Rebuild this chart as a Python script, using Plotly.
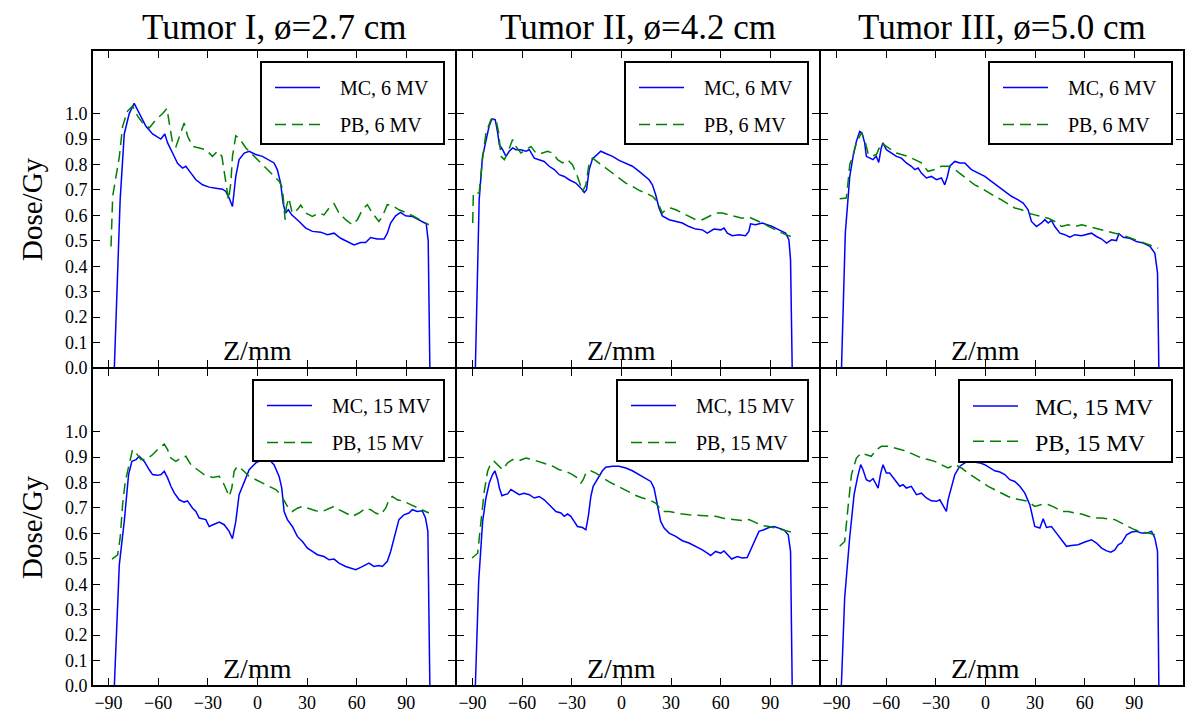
import plotly.graph_objects as go
from plotly.subplots import make_subplots

# ---------------- data: (Z/mm, Dose/Gy) pairs ----------------
mc6_t1 = [(-86.5,0),(-83,0.66),(-80.5,0.92),(-77.5,1.0),(-74.5,1.04),(-71.4,1.0),(-67.4,0.95),(-63.4,0.92),
          (-60.4,0.91),(-58.4,0.90),(-56,0.92),(-54.3,0.885),(-51.3,0.845),(-48.3,0.805),(-45.3,0.786),(-43.3,0.793),
          (-40.2,0.766),(-37.2,0.74),(-33.2,0.72),(-29.2,0.711),(-25.2,0.707),(-21.1,0.703),(-19.1,0.694),(-17.1,0.668),
          (-15.1,0.635),(-13.1,0.753),(-11.1,0.819),(-8,0.845),(-5,0.852),(-1,0.839),(3,0.832),(7,0.819),(10,0.806),
          (12,0.78),(14,0.727),(15.5,0.648),(17,0.609),(18.7,0.622),(20.7,0.602),(25.2,0.576),(29.2,0.55),(33.2,0.537),
          (38.2,0.534),(42.3,0.524),(46.3,0.53),(50.3,0.51),(54.3,0.497),(58.4,0.484),(62.4,0.493),(65.4,0.493),
          (68.4,0.513),(72.4,0.507),(76.5,0.507),(78.5,0.53),(80.5,0.57),(83.5,0.598),(86.5,0.612),(89.5,0.598),
          (93.6,0.596),(97.6,0.583),(102,0.567),(103.2,0.50),(104.2,0)]
pb6_t1 = [(-88.5,0.478),(-87.5,0.675),(-83.5,0.83),(-81.5,0.95),(-78.5,1.01),(-75.5,1.03),(-72.4,0.99),(-69.4,0.963),
          (-65.4,0.944),(-61.4,0.976),(-57.3,1.0),(-54.7,1.02),(-53.3,0.963),(-51.3,0.885),(-49.3,0.87),(-46.3,0.925),
          (-44.3,0.963),(-42.2,0.911),(-39.2,0.871),(-35.2,0.865),(-31.2,0.858),(-27.2,0.832),(-24.1,0.852),(-21.5,0.832),
          (-19.5,0.753),(-17.5,0.661),(-16.1,0.727),(-15.1,0.832),(-13.1,0.913),(-11.1,0.904),(-7,0.865),(-3,0.839),
          (1,0.812),(5,0.786),(9.1,0.76),(13.1,0.734),(15.1,0.707),(16.7,0.583),(17.5,0.635),(19,0.668),(21,0.609),
          (24.1,0.622),(26.2,0.64),(29.2,0.609),(33.2,0.596),(37.2,0.609),(40.2,0.602),(43.3,0.629),(46.3,0.646),
          (49.3,0.609),(53.3,0.583),(57.3,0.563),(60.4,0.583),(63.4,0.622),(66.4,0.642),(69.4,0.609),(73.4,0.576),
          (75.5,0.596),(78.5,0.642),(81.5,0.639),(85.5,0.622),(89.5,0.612),(94.6,0.596),(99.6,0.576),(103.6,0.563)]

mc6_t2 = [(-88.3,0),(-86,0.66),(-84,0.83),(-82,0.885),(-80,0.95),(-78.3,0.979),(-76.3,0.976),(-74.8,0.924),
          (-73.8,0.878),(-71.8,0.858),(-69.8,0.832),(-67.8,0.852),(-65.8,0.865),(-63.8,0.858),(-60.8,0.858),
          (-57.7,0.852),(-55.7,0.858),(-52.7,0.825),(-49.7,0.819),(-46.7,0.812),(-43.7,0.793),(-40.6,0.78),
          (-37.6,0.76),(-34.6,0.753),(-31.6,0.74),(-27.6,0.727),(-24.5,0.707),(-22.5,0.69),(-21.1,0.701),
          (-19.5,0.78),(-17.5,0.822),(-14.5,0.839),(-12.5,0.852),(-9.5,0.843),(-5.4,0.832),(-1.4,0.816),(2.6,0.806),
          (6.6,0.793),(10.7,0.773),(14.7,0.753),(16.7,0.74),(18.7,0.72),(20.7,0.681),(22.7,0.629),(24.7,0.598),
          (28.8,0.583),(32.8,0.576),(36.8,0.57),(40.8,0.556),(44.9,0.546),(48.9,0.543),(51.9,0.53),(55.9,0.546),
          (60,0.543),(62,0.55),(64,0.53),(67,0.52),(71,0.524),(75,0.52),(77,0.537),(78,0.567),(81,0.563),(85.1,0.57),
          (88.1,0.563),(91.1,0.556),(95.2,0.543),(99.2,0.53),(101.2,0.504),(102.2,0.425),(103.2,0)]
pb6_t2 = [(-89.9,0.57),(-89.5,0.688),(-86,0.688),(-84,0.819),(-81.9,0.924),(-78.9,0.976),(-75.9,0.979),
          (-74.2,0.924),(-72.8,0.832),(-70.8,0.819),(-68.8,0.845),(-65.8,0.898),(-63.8,0.871),(-60.8,0.845),
          (-57.7,0.858),(-54.7,0.871),(-51.7,0.845),(-48.7,0.843),(-44.7,0.852),(-41.6,0.845),(-38.6,0.819),
          (-35.6,0.806),(-32.6,0.819),(-29.6,0.799),(-26.6,0.753),(-23.5,0.694),(-21.5,0.72),(-19.5,0.806),
          (-17.5,0.825),(-13.5,0.806),(-9.5,0.786),(-5.4,0.766),(-1.4,0.747),(2.6,0.727),(6.6,0.714),(10.7,0.698),
          (14.7,0.688),(18.7,0.675),(21.7,0.655),(24.7,0.609),(26.8,0.622),(29.8,0.629),(32.8,0.622),(36.8,0.609),
          (40.8,0.596),(44.9,0.583),(48.9,0.583),(52.9,0.596),(56.9,0.609),(61,0.609),(65,0.602),(69,0.596),
          (73,0.589),(77.1,0.593),(81.1,0.583),(85.1,0.57),(89.1,0.556),(93.2,0.543),(97.2,0.53),(105.2,0.51)]

mc6_t3 = [(-87,0),(-84.7,0.53),(-82,0.753),(-80,0.832),(-78,0.891),(-76,0.93),(-74.6,0.924),(-73,0.885),
          (-72,0.832),(-70,0.825),(-68,0.819),(-66,0.832),(-64.5,0.808),(-63,0.865),(-61.9,0.885),(-59.9,0.858),
          (-56.9,0.845),(-53.8,0.832),(-50.8,0.825),(-47.8,0.806),(-44.8,0.793),(-42.7,0.78),(-40.7,0.786),
          (-38.7,0.766),(-35.7,0.747),(-32.7,0.753),(-29.6,0.74),(-26.6,0.747),(-24.6,0.72),(-23,0.753),
          (-21.6,0.793),(-18.5,0.812),(-15.5,0.806),(-12.5,0.806),(-8.5,0.78),(-4.4,0.766),(-0.4,0.753),
          (3.6,0.734),(7.7,0.714),(11.7,0.694),(15.7,0.675),(19.8,0.661),(22.8,0.648),(25.8,0.622),(27.8,0.576),
          (30.8,0.556),(33.9,0.57),(35.9,0.583),(37.9,0.57),(39.9,0.58),(41.9,0.556),(45,0.53),(48,0.524),
          (51,0.514),(54,0.524),(58,0.52),(61.1,0.524),(64.1,0.53),(67.1,0.517),(70.2,0.507),(73.2,0.491),
          (76.2,0.504),(79.2,0.501),(80.6,0.528),(83.3,0.514),(87.3,0.51),(91.3,0.497),(95.4,0.491),(99.4,0.478),
          (102.4,0.451),(104,0.373),(104.8,0)]
pb6_t3 = [(-88.1,0.665),(-84.1,0.668),(-83.1,0.727),(-82,0.8),(-80,0.839),(-78,0.885),(-75,0.924),(-73,0.898),
          (-71,0.845),(-68.9,0.832),(-65.9,0.839),(-62.9,0.885),(-59.9,0.871),(-56.9,0.858),(-53.8,0.845),
          (-50.8,0.839),(-46.8,0.832),(-42.7,0.819),(-38.7,0.806),(-34.7,0.773),(-30.6,0.78),(-26.6,0.793),
          (-22.6,0.793),(-18.5,0.78),(-14.5,0.76),(-10.5,0.74),(-6.5,0.72),(-2.4,0.707),(1.6,0.69),(5.6,0.675),
          (9.7,0.661),(13.7,0.646),(17.7,0.629),(21.8,0.622),(25.8,0.609),(29.8,0.602),(33.9,0.596),(37.9,0.589),
          (41.9,0.576),(46,0.556),(50,0.563),(54,0.556),(58.1,0.563),(62.1,0.556),(66.1,0.55),(70.2,0.543),
          (74.2,0.537),(78.2,0.53),(82.3,0.524),(86.3,0.514),(90.3,0.504),(94.4,0.493),(98.4,0.484),(104.4,0.471)]

mc15_t1 = [(-86.5,0),(-83.5,0.476),(-80.5,0.647),(-77.9,0.831),(-75.9,0.883),(-73.4,0.89),(-71.4,0.903),
           (-68.4,0.883),(-65.4,0.85),(-63.4,0.831),(-60.4,0.828),(-58.3,0.831),(-56.3,0.844),(-54.3,0.818),
           (-52.3,0.785),(-50.3,0.759),(-47.3,0.732),(-44.3,0.723),(-42.3,0.728),(-39.2,0.699),(-37.2,0.686),
           (-35.2,0.66),(-31.2,0.654),(-29.2,0.627),(-26.2,0.636),(-23.1,0.644),(-20.1,0.634),(-17.1,0.608),
           (-15.1,0.579),(-13.1,0.647),(-11.1,0.752),(-8,0.804),(-5,0.85),(-1,0.877),(3,0.89),(7,0.89),(10,0.87),
           (13.1,0.824),(14.7,0.778),(16.1,0.686),(18.1,0.654),(21.1,0.627),(24.1,0.588),(27.2,0.568),(30.2,0.542),
           (33.2,0.529),(36.2,0.516),(40.2,0.509),(43.3,0.496),(46.3,0.499),(49.3,0.483),(53.3,0.47),(56.3,0.463),
           (59.4,0.457),(62.4,0.466),(65.4,0.476),(67.4,0.483),(70.4,0.47),(73.4,0.474),(75.5,0.47),(78.5,0.49),
           (80.5,0.529),(82.5,0.581),(85.5,0.654),(88.5,0.673),(91.5,0.68),(93.6,0.693),(96.6,0.686),(99.6,0.689),
           (101.6,0.66),(103,0.608),(104.2,0)]
pb15_t1 = [(-87.9,0.499),(-84.5,0.516),(-83,0.581),(-81.5,0.713),(-79.9,0.804),(-77.5,0.87),(-75.5,0.929),
           (-73.4,0.916),(-70.4,0.89),(-67.4,0.89),(-63.4,0.909),(-59.4,0.936),(-56.3,0.951),(-54.3,0.929),
           (-52.3,0.896),(-49.3,0.883),(-46.3,0.896),(-43.3,0.903),(-40.2,0.87),(-36.2,0.85),(-32.2,0.831),
           (-27.2,0.82),(-23.1,0.824),(-20.1,0.791),(-17.1,0.745),(-15.5,0.778),(-14.1,0.844),(-12.1,0.864),
           (-9.1,0.85),(-5,0.824),(-1,0.811),(3,0.798),(7,0.785),(11.1,0.772),(14.1,0.752),(16.1,0.726),(18.1,0.706),
           (21.1,0.686),(24.1,0.699),(27.2,0.706),(31.2,0.699),(35.2,0.689),(39.2,0.686),(43.3,0.697),(46.3,0.706),
           (49.3,0.693),(53.3,0.68),(57.3,0.667),(61.4,0.68),(65.4,0.699),(68.4,0.693),(71.4,0.68),(74.4,0.673),
           (77.5,0.699),(79.5,0.732),(81.5,0.745),(84.5,0.732),(88.5,0.726),(92.6,0.713),(97.6,0.699),(103.6,0.68)]

mc15_t2 = [(-88.3,0),(-86.3,0.411),(-83.9,0.647),(-81.9,0.739),(-79.9,0.798),(-77.9,0.831),(-76.5,0.846),
           (-74.8,0.811),(-73.8,0.778),(-72.2,0.748),(-70.8,0.752),(-68.8,0.755),(-66.8,0.772),(-64.8,0.765),
           (-61.8,0.752),(-58.8,0.758),(-55.7,0.752),(-52.7,0.739),(-49.7,0.745),(-46.7,0.732),(-43.7,0.713),
           (-41.6,0.699),(-39.6,0.686),(-36.6,0.68),(-34.6,0.667),(-32.6,0.676),(-30.6,0.667),(-28.6,0.647),
           (-26.6,0.627),(-23.5,0.623),(-21.5,0.614),(-19.9,0.673),(-18.5,0.745),(-17.1,0.785),(-14.5,0.811),
           (-11.5,0.846),(-9.5,0.86),(-5.4,0.864),(-1.4,0.864),(2.6,0.857),(6.6,0.846),(10.7,0.831),(14.7,0.818),
           (17.7,0.804),(19.7,0.778),(21.7,0.713),(23.7,0.647),(25.8,0.621),(28.8,0.601),(32.8,0.588),(36.8,0.571),
           (40.8,0.562),(44.9,0.549),(48.9,0.535),(51.9,0.522),(53.9,0.513),(56.9,0.529),(60,0.522),(62,0.531),
           (64,0.516),(66.6,0.499),(70,0.509),(73,0.503),(76,0.505),(78.1,0.535),(80.1,0.568),(83.1,0.608),
           (86.1,0.614),(89.1,0.623),(92.2,0.627),(95.2,0.621),(98.2,0.614),(100.8,0.594),(102.2,0.529),(103.2,0)]
pb15_t2 = [(-90.3,0.503),(-86.9,0.522),(-84.9,0.647),(-82.9,0.765),(-80.9,0.844),(-78.9,0.877),(-76.9,0.883),
           (-74.8,0.87),(-71.8,0.85),(-68.8,0.877),(-65.8,0.89),(-61.8,0.886),(-57.7,0.896),(-53.7,0.89),
           (-49.7,0.881),(-45.7,0.873),(-41.6,0.864),(-37.6,0.85),(-33.6,0.844),(-29.6,0.831),(-26.6,0.818),
           (-24.5,0.798),(-23.1,0.811),(-21.5,0.837),(-18.5,0.846),(-15.5,0.837),(-11.5,0.818),(-7.4,0.802),
           (-3.4,0.789),(0.6,0.776),(4.6,0.762),(8.7,0.749),(12.7,0.739),(16.7,0.732),(20.7,0.719),(22.7,0.702),
           (24.7,0.686),(28.8,0.686),(32.8,0.68),(36.8,0.676),(40.8,0.673),(46.9,0.671),(52.9,0.669),(56.9,0.667),
           (61,0.66),(67,0.654),(73,0.65),(77.1,0.654),(81.1,0.644),(85.1,0.631),(89.1,0.627),(93.2,0.621),
           (97.2,0.614),(105.2,0.601)]

mc15_t3 = [(-87.1,0),(-85.1,0.345),(-82.1,0.581),(-79.4,0.752),(-77.4,0.818),(-75.4,0.87),(-74,0.85),(-72,0.811),
           (-70,0.804),(-67.9,0.815),(-66.5,0.798),(-64.9,0.778),(-63.3,0.837),(-61.9,0.87),(-59.9,0.837),
           (-57.9,0.837),(-54.8,0.811),(-51.8,0.785),(-49.8,0.791),(-47.8,0.778),(-44.8,0.785),(-41.7,0.752),
           (-38.7,0.758),(-35.7,0.739),(-32.7,0.728),(-29.6,0.726),(-27.6,0.732),(-25.6,0.706),(-23.6,0.686),
           (-22.6,0.732),(-20.6,0.778),(-18.5,0.831),(-15.5,0.864),(-12.5,0.877),(-9.5,0.883),(-6.5,0.881),
           (-3.4,0.877),(-0.4,0.87),(2.6,0.857),(5.6,0.846),(8.7,0.841),(11.7,0.831),(14.7,0.811),(17.7,0.804),
           (20.8,0.785),(23.8,0.758),(26.8,0.713),(29.8,0.627),(32.9,0.621),(34.9,0.657),(36.9,0.623),(39.9,0.627),
           (42.9,0.601),(46,0.575),(49,0.549),(52,0.552),(56,0.555),(60.1,0.566),(64.1,0.575),(67.1,0.562),
           (70.2,0.542),(73.2,0.531),(75.8,0.526),(78.2,0.535),(80.2,0.555),(82.3,0.562),(85.3,0.594),(88.3,0.605),
           (91.3,0.608),(94.4,0.601),(97.4,0.601),(100.4,0.608),(102.4,0.581),(104,0.529),(104.8,0)]
pb15_t3 = [(-88.1,0.549),(-85.1,0.568),(-83.1,0.699),(-81,0.831),(-78,0.896),(-75,0.916),(-72,0.909),(-69,0.903),
           (-65.9,0.929),(-62.9,0.942),(-58.9,0.942),(-54.8,0.936),(-50.8,0.929),(-46.8,0.92),(-42.7,0.909),
           (-38.7,0.896),(-34.7,0.89),(-30.6,0.883),(-26.6,0.87),(-22.6,0.857),(-18.5,0.87),(-14.5,0.857),
           (-10.5,0.837),(-6.5,0.818),(-2.4,0.802),(1.6,0.785),(5.6,0.772),(9.7,0.758),(13.7,0.745),(17.7,0.736),
           (21.8,0.732),(25.8,0.726),(29.8,0.706),(33.9,0.713),(37.9,0.713),(41.9,0.702),(46,0.686),(50,0.686),
           (54,0.68),(58.1,0.676),(62.1,0.667),(66.1,0.66),(70.2,0.66),(74.2,0.657),(78.2,0.654),(82.3,0.64),
           (86.3,0.627),(90.3,0.614),(94.4,0.605),(98.4,0.601),(104.4,0.592)]

titles = ["Tumor I, ø=2.7 cm", "Tumor II, ø=4.2 cm", "Tumor III, ø=5.0 cm"]
energies = ["6 MV", "15 MV"]
x_ticks = [-90, -60, -30, 0, 30, 60, 90]
y_ticks = [0.0, 0.1, 0.2, 0.3, 0.4, 0.5, 0.6, 0.7, 0.8, 0.9, 1.0]
y_ticktext = ["0.0", "0.1", "0.2", "0.3", "0.4", "0.5", "0.6", "0.7", "0.8", "0.9", "1.0"]

panels = [[(mc6_t1, pb6_t1), (mc6_t2, pb6_t2), (mc6_t3, pb6_t3)],
          [(mc15_t1, pb15_t1), (mc15_t2, pb15_t2), (mc15_t3, pb15_t3)]]

# ---------------- figure ----------------
FONT = "Liberation Serif"
W, H = 1200, 722
ML, MR, MT, MB = 92, 16, 50, 36
PW, PH = W - ML - MR, H - MT - MB

def px_x(p):
    return (p - ML) / PW

def px_y(p):
    return (H - MB - p) / PH

fig = make_subplots(rows=2, cols=3, horizontal_spacing=0, vertical_spacing=0)

# legend boxes in pixels: left, right, top, bottom, font size, group gap, top offset, text pad
leg_box = [[(261, 444, 62, 144, 20, 8, 6, 3), (625, 808, 62, 144, 20, 8, 6, 3), (989, 1172, 62, 144, 20, 8, 6, 3)],
           [(253, 444, 380, 461, 20, 8, 6, 3), (617, 808, 380, 461, 20, 8, 6, 3), (959, 1172, 380, 462, 24, 1, 4, 2)]]

for r in range(2):
    for c in range(3):
        k = r * 3 + c + 1
        lname = "legend" if k == 1 else f"legend{k}"
        mc, pb = panels[r][c]
        L, R, T, B, fs, gap, toff, npad = leg_box[r][c]
        pad = "\u00a0" * npad
        fig.add_trace(go.Scatter(x=[p[0] for p in mc], y=[p[1] for p in mc], mode="lines",
                                 line=dict(color="#0000ff", width=1.5),
                                 name=pad + f"MC, {energies[r]}", legend=lname,
                                 legendgroup=f"mc{k}"), row=r + 1, col=c + 1)
        fig.add_trace(go.Scatter(x=[p[0] for p in pb], y=[p[1] for p in pb], mode="lines",
                                 line=dict(color="#008000", width=1.5, dash="11px,6px"),
                                 name=pad + f"PB, {energies[r]}", legend=lname,
                                 legendgroup=f"pb{k}"), row=r + 1, col=c + 1)
        fig.add_shape(type="rect", xref="paper", yref="paper",
                      x0=px_x(L), x1=px_x(R), y0=px_y(B), y1=px_y(T),
                      fillcolor="white", line=dict(color="black", width=2), layer="above")
        fig.update_layout({lname: dict(
            x=px_x(L + 9), y=px_y(T + toff), xanchor="left", yanchor="top",
            xref="paper", yref="paper",
            bgcolor="rgba(0,0,0,0)", borderwidth=0,
            font=dict(family=FONT, size=fs, color="black"),
            tracegroupgap=gap, itemwidth=45, traceorder="grouped",
        )})
        # Z/mm label inside each panel
        xr = "x" if k == 1 else f"x{k}"
        yr = "y domain" if k == 1 else f"y{k} domain"
        fig.add_annotation(x=0, xref=xr, y=0, yref=yr, yanchor="bottom", xanchor="center",
                           text="Z/mm", showarrow=False, yshift=0,
                           font=dict(family=FONT, size=28, color="black"))

fig.update_xaxes(range=[-100, 120], tickvals=x_ticks, ticks="inside", ticklen=8, tickwidth=1.2,
                 tickcolor="black", showline=True, linecolor="black", linewidth=1, mirror="ticks",
                 showgrid=False, zeroline=False, automargin=False,
                 tickfont=dict(family=FONT, size=18, color="black"))
fig.update_yaxes(range=[0, 1.25], tickvals=y_ticks, ticktext=y_ticktext, ticks="inside", ticklen=8,
                 tickwidth=1.2, tickcolor="black", showline=True, linecolor="black", linewidth=1,
                 mirror="ticks", showgrid=False, zeroline=False, automargin=False,
                 tickfont=dict(family=FONT, size=18, color="black"))
for r in range(2):
    for c in range(3):
        fig.update_xaxes(showticklabels=(r == 1), row=r + 1, col=c + 1)
        fig.update_yaxes(showticklabels=(c == 0), row=r + 1, col=c + 1)

# outer frame
fig.add_shape(type="rect", xref="paper", yref="paper", x0=0, x1=1, y0=0, y1=1,
              line=dict(color="black", width=2), layer="above")

# column titles
for c in range(3):
    fig.add_annotation(x=(c + 0.5) / 3, xref="paper", y=1, yref="paper", yanchor="bottom",
                       xanchor="center", text=titles[c], showarrow=False, yshift=1,
                       font=dict(family=FONT, size=35, color="black"))
# y-axis titles
for r in range(2):
    fig.add_annotation(x=px_x(32), xref="paper", y=0.75 - 0.5 * r, yref="paper",
                       xanchor="center", yanchor="middle", textangle=-90,
                       text="Dose/Gy", showarrow=False,
                       font=dict(family=FONT, size=29, color="black"))

fig.update_layout(width=W, height=H, margin=dict(l=ML, r=MR, t=MT, b=MB, autoexpand=False),
                  paper_bgcolor="white", plot_bgcolor="white", showlegend=True,
                  font=dict(family=FONT, color="black"))

fig.write_html("out.html", config={"displayModeBar": False},
               post_script="document.body.style.margin='0';")
